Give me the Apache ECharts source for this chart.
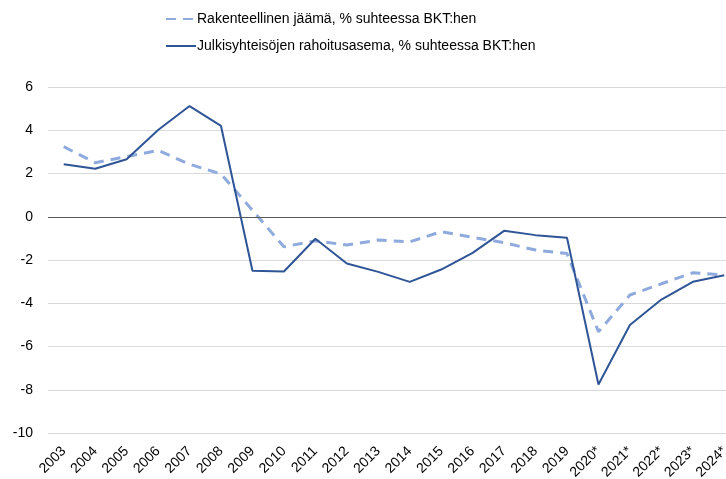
<!DOCTYPE html>
<html><head><meta charset="utf-8">
<script src="https://cdn.jsdelivr.net/npm/echarts@6/dist/echarts.min.js"></script>
<style>html,body{margin:0;padding:0;background:#fff;overflow:hidden}#c{width:740px;height:479px}</style>
</head><body><div id="c"></div>
<script>
var categories = ['2003','2004','2005','2006','2007','2008','2009','2010','2011','2012','2013','2014','2015','2016','2017','2018','2019','2020*','2021*','2022*','2023*','2024*'];
var structural = [3.24,2.5,2.78,3.07,2.43,1.98,0.3,-1.39,-1.11,-1.31,-1.08,-1.16,-0.69,-0.95,-1.2,-1.54,-1.7,-5.32,-3.62,-3.1,-2.59,-2.7];
var financial = [2.43,2.22,2.66,4.01,5.12,4.2,-2.5,-2.53,-1.02,-2.16,-2.55,-3.01,-2.44,-1.67,-0.65,-0.85,-0.97,-7.76,-5.01,-3.83,-3.01,-2.71];
var yTicks = [-10,-8,-6,-4,-2,0,2,4,6];
var names = ['Rakenteellinen jäämä, % suhteessa BKT:hen','Julkisyhteisöjen rahoitusasema, % suhteessa BKT:hen'];

var chart = echarts.init(document.getElementById('c'));
chart.setOption({
  animation:false,
  textStyle:{fontFamily:'Liberation Sans, Arial, sans-serif'},
  legend:{
    orient:'vertical', left:160, top:7, itemGap:13, itemWidth:30, itemHeight:14,
    itemStyle:{opacity:0},
    textStyle:{fontSize:14, color:'#000', padding:[0,0,0,-4]},
    data:names
  },
  grid:{left:48, right:0, top:87, bottom:46, containLabel:false, outerBoundsMode:'none'},
  xAxis:{
    type:'category', data:categories, boundaryGap:true,
    axisLine:{show:false}, axisTick:{show:false},
    axisLabel:{rotate:45, fontSize:14, color:'#000', margin:16, interval:0}
  },
  yAxis:{
    type:'value', min:yTicks[0], max:yTicks[yTicks.length-1], interval:2,
    axisLine:{show:false}, axisTick:{show:false},
    axisLabel:{fontSize:14, color:'#000', margin:15},
    splitLine:{lineStyle:{color:'#d9d9d9', width:1}}
  },
  series:[
    {name:names[0], type:'line', data:structural, symbol:'none',
     lineStyle:{color:'#8faadc', width:3, type:[10,7]}, itemStyle:{color:'#8faadc'},
     markLine:{silent:true, symbol:'none', label:{show:false},
       lineStyle:{color:'#595959', width:1, type:'solid'}, data:[{yAxis:0}]}},
    {name:names[1], type:'line', data:financial, symbol:'none',
     lineStyle:{color:'#2f5597', width:2}, itemStyle:{color:'#2f5597'}}
  ]
});
</script></body></html>
